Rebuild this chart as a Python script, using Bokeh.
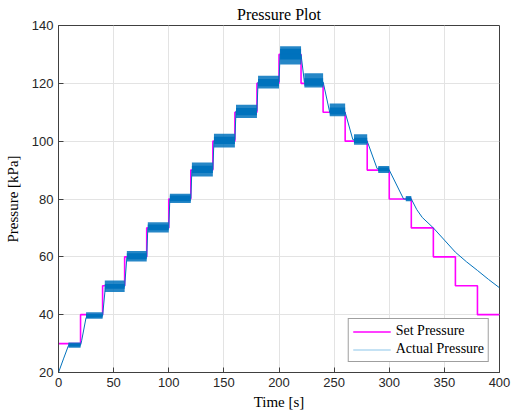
from bokeh.plotting import figure
from bokeh.models import LinearAxis, Range1d, Legend, LegendItem, FixedTicker
from bokeh.embed import file_html
from bokeh.resources import INLINE

# Set pressure (step, value held from each time to the next)
set_t = [0, 20, 40, 60, 80, 100, 120, 140, 160, 180, 200, 220, 240, 260, 280, 300, 320, 340, 360, 380, 400]
set_v = [30, 40, 50, 60, 70, 80, 90, 100, 110, 120, 130, 120, 110, 100, 90, 80, 70, 60, 50, 40, 40]

# Actual pressure: trend line
act_t = [0, 4.5, 9, 20, 21, 25, 40, 42.5, 60, 62, 80, 81, 100, 101, 120, 121, 140, 141, 160, 161,
         180, 181, 200, 201, 220, 223, 240, 246, 260, 267, 280, 289, 300, 313, 320, 325, 330, 340,
         350, 360, 370, 380, 390, 400]
act_v = [20, 24.7, 29.3, 29.5, 31, 39, 39.6, 49.5, 49.8, 59.8, 60, 69.8, 70, 80, 80.2, 90, 90.2, 100,
         100.5, 110.5, 110.5, 120.5, 120.5, 130, 130, 120.5, 120.5, 110, 110, 100.5, 100, 90.5, 90,
         80, 80, 76.3, 73.6, 70, 65.8, 61.6, 58.3, 55.3, 52.2, 49.3]

# Actual pressure: noise band on each plateau (core and spike extents)
band_t0 = [9, 25, 42, 62, 81, 101, 121, 141, 161, 181, 201, 223, 246, 268, 290, 315]
band_t1 = [20, 40, 60, 80, 100, 120, 140, 160, 180, 200, 220, 240, 260, 280, 300, 320]
core_lo = [29.0, 39.0, 49.0, 59.2, 69.2, 79.2, 89.0, 99.0, 109.0, 119.0, 128.2, 119.2, 109.2, 99.4, 89.6, 79.6]
core_hi = [30.0, 40.2, 50.6, 61.2, 71.2, 81.2, 91.5, 101.5, 111.5, 121.5, 132.0, 121.8, 111.6, 101.2, 90.9, 80.6]
spike_lo = [28.6, 38.6, 47.8, 58.4, 68.4, 78.6, 87.8, 97.8, 108.0, 118.2, 126.5, 118.6, 108.6, 98.8, 89.0, 79.2]
spike_hi = [30.4, 40.8, 51.8, 62.0, 72.0, 81.8, 92.6, 102.6, 112.6, 122.6, 132.8, 123.5, 113.0, 102.4, 91.4, 81.0]

x_ticks = [0, 50, 100, 150, 200, 250, 300, 350, 400]
y_ticks = [20, 40, 60, 80, 100, 120, 140]

BLUE = "#0072BD"
MAGENTA = "#FF00FF"
AXC = "#404040"
SERIF = "Liberation Serif"
SANS = "Liberation Sans"

p = figure(width=511, height=414, output_backend="svg", toolbar_location=None,
           x_range=Range1d(0, 400), y_range=Range1d(20, 140),
           min_border_left=58, min_border_right=12, min_border_top=24, min_border_bottom=42)
p.background_fill_color = "white"
p.border_fill_color = "white"
p.outline_line_color = AXC
p.outline_line_width = 1

p.title.text = "Pressure Plot"
p.title.align = "center"
p.title.text_font = SERIF
p.title.text_font_style = "normal"
p.title.text_font_size = "16px"
p.title.text_color = "#000000"
p.title.offset = 0
p.title.standoff = 6

for ax in (p.xaxis[0], p.yaxis[0]):
    ax.major_tick_in = 5
    ax.major_tick_out = 0
    ax.minor_tick_in = 0
    ax.minor_tick_out = 0
    ax.axis_line_color = AXC
    ax.major_tick_line_color = AXC
    ax.major_label_text_font = SANS
    ax.major_label_text_font_size = "13px"
    ax.major_label_text_color = "#262626"
    ax.axis_label_text_font = SERIF
    ax.axis_label_text_font_style = "normal"
    ax.axis_label_text_font_size = "15px"
    ax.axis_label_text_color = "#000000"
p.xaxis[0].ticker = FixedTicker(ticks=x_ticks)
p.yaxis[0].ticker = FixedTicker(ticks=y_ticks)
p.xaxis[0].axis_label = "Time [s]"
p.yaxis[0].axis_label = "Pressure [kPa]"
p.xaxis[0].major_label_standoff = 5
p.yaxis[0].major_label_standoff = 5
p.xaxis[0].axis_label_standoff = 4
p.yaxis[0].axis_label_standoff = 8

p.xgrid.ticker = FixedTicker(ticks=x_ticks)
p.ygrid.ticker = FixedTicker(ticks=y_ticks)
p.xgrid.grid_line_color = "#e3e3e3"
p.ygrid.grid_line_color = "#e3e3e3"

r_set = p.step(set_t, set_v, mode="after", line_color=MAGENTA, line_width=1.6)
p.quad(left=band_t0, right=band_t1, bottom=spike_lo, top=spike_hi,
       fill_color=BLUE, fill_alpha=0.85, line_color=None)
p.quad(left=band_t0, right=band_t1, bottom=core_lo, top=core_hi,
       fill_color=BLUE, fill_alpha=1.0, line_color=None)
p.line(act_t, act_v, line_color=BLUE, line_width=1.0)
# legend-only sample line (drawn outside the visible range)
r_leg_act = p.line([0, 1], [-100, -100], line_color="#8cc6ea", line_width=1.2)

legend = Legend(items=[LegendItem(label="Set Pressure", renderers=[r_set]),
                       LegendItem(label="Actual Pressure", renderers=[r_leg_act])],
                location="bottom_right")
legend.label_text_font = SERIF
legend.label_text_font_size = "14px"
legend.label_text_color = "#000000"
legend.glyph_width = 38
legend.glyph_height = 13
legend.label_height = 13
legend.spacing = 2
legend.padding = 4
legend.margin = 10
legend.border_line_color = AXC
legend.border_line_width = 1
legend.background_fill_alpha = 1
p.add_layout(legend, "center")

out = file_html(p, INLINE)
open("out.html", "w").write(out)
